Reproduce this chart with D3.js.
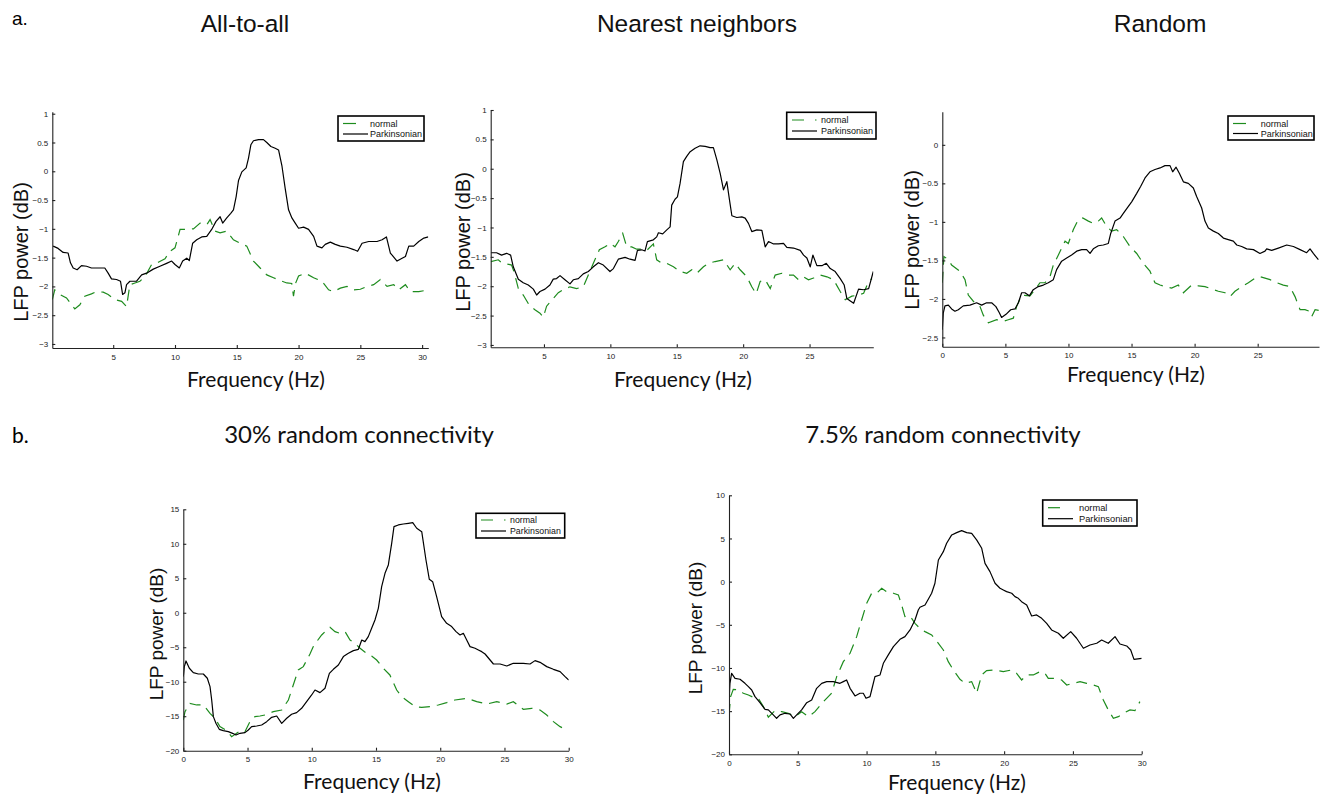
<!DOCTYPE html>
<html><head><meta charset="utf-8">
<script src="https://cdn.jsdelivr.net/npm/d3@7"></script>
<style>body{margin:0;background:#fff} svg{display:block}</style>
</head><body>
<svg id="chart" width="1328" height="796"></svg>
<script>
// ---------------- DATA ----------------
const panelTitles = ["All-to-all", "Nearest neighbors", "Random", "30% random connectivity", "7.5% random connectivity"];
const seriesNames = ["normal", "Parkinsonian"];

const allToAllNormal = [[0.07,-2.23],[0.27,-2.06],[0.68,-2.14],[1.22,-2.20],[1.89,-2.39],[2.30,-2.32],[2.70,-2.17],[3.24,-2.13],[3.65,-2.09],[4.19,-2.10],[4.59,-2.14],[5.14,-2.23],[5.68,-2.26],[6.08,-2.35],[6.35,-1.97],[6.76,-1.94],[7.16,-1.91],[7.57,-1.83],[8.11,-1.62],[8.65,-1.58],[9.19,-1.52],[9.59,-1.39],[10.0,-1.33],[10.41,-1.01],[10.95,-1.01],[11.49,-1.00],[12.03,-0.90],[12.57,-0.93],[12.84,-0.84],[13.24,-1.04],[13.65,-1.07],[14.19,-1.04],[14.73,-1.19],[15.27,-1.25],[15.81,-1.30],[16.35,-1.56],[16.89,-1.68],[17.43,-1.80],[17.97,-1.85],[18.65,-1.91],[19.05,-1.94],[19.45,-1.95],[19.59,-2.17],[19.75,-1.95],[20.0,-1.82],[20.54,-1.77],[21.22,-1.85],[21.89,-1.91],[22.43,-2.06],[22.84,-2.09],[23.38,-2.03],[23.92,-2.00],[24.46,-2.06],[25.0,-2.05],[25.54,-2.00],[26.08,-1.97],[26.62,-1.88],[27.16,-2.00],[27.70,-1.97],[28.11,-2.06],[28.65,-1.97],[29.05,-2.09],[29.73,-2.09],[30.27,-2.07]];
const allToAllParkinsonian = [[0.14,-1.30],[0.54,-1.34],[0.95,-1.41],[1.35,-1.42],[1.54,-1.59],[1.76,-1.68],[2.08,-1.71],[2.43,-1.64],[2.84,-1.65],[3.24,-1.68],[3.92,-1.68],[4.32,-1.68],[4.59,-1.77],[4.86,-1.87],[5.27,-1.88],[5.59,-1.91],[5.76,-2.14],[5.95,-2.11],[6.08,-1.97],[6.35,-1.91],[6.89,-1.91],[7.30,-1.80],[7.70,-1.77],[8.24,-1.70],[8.78,-1.65],[9.32,-1.60],[9.73,-1.56],[10.0,-1.62],[10.35,-1.68],[10.62,-1.56],[10.95,-1.51],[11.16,-1.55],[11.43,-1.25],[11.76,-1.19],[12.16,-1.14],[12.57,-1.13],[12.97,-1.01],[13.32,-0.87],[13.65,-0.79],[13.86,-0.90],[14.19,-0.81],[14.51,-0.73],[14.73,-0.67],[14.95,-0.44],[15.14,-0.16],[15.41,-0.01],[15.76,0.06],[15.95,0.23],[16.14,0.46],[16.35,0.53],[16.76,0.55],[17.16,0.55],[17.43,0.50],[17.76,0.43],[18.11,0.40],[18.38,0.37],[18.65,0.10],[18.92,-0.30],[19.19,-0.67],[19.46,-0.81],[19.73,-0.90],[20.0,-0.99],[20.41,-0.97],[20.81,-1.01],[21.22,-1.13],[21.49,-1.30],[21.89,-1.33],[22.16,-1.27],[22.57,-1.23],[22.97,-1.27],[23.38,-1.30],[23.92,-1.32],[24.46,-1.36],[24.78,-1.39],[25.14,-1.25],[25.68,-1.22],[26.35,-1.22],[26.76,-1.19],[27.11,-1.14],[27.43,-1.42],[27.97,-1.56],[28.38,-1.51],[28.65,-1.48],[28.92,-1.30],[29.32,-1.30],[29.73,-1.22],[30.14,-1.16],[30.5,-1.14]];

const nearestNormal = [[1.0,-1.58],[1.56,-1.55],[1.81,-1.60],[2.56,-1.64],[2.74,-1.75],[3.07,-2.04],[3.44,-2.15],[3.89,-2.32],[4.32,-2.40],[4.70,-2.46],[4.95,-2.53],[5.20,-2.34],[5.70,-2.21],[6.08,-2.11],[6.46,-2.06],[6.96,-2.01],[7.46,-2.04],[7.96,-2.01],[8.34,-1.81],[8.72,-1.61],[9.17,-1.38],[9.60,-1.33],[9.97,-1.27],[10.35,-1.33],[10.60,-1.24],[10.93,-1.10],[11.23,-1.33],[11.61,-1.33],[11.98,-1.37],[12.36,-1.37],[12.74,-1.39],[13.24,-1.28],[13.49,-1.55],[13.87,-1.61],[14.25,-1.61],[14.75,-1.67],[15.25,-1.75],[15.75,-1.78],[16.13,-1.72],[16.51,-1.78],[17.01,-1.67],[17.39,-1.61],[17.89,-1.58],[18.52,-1.55],[19.02,-1.72],[19.40,-1.61],[19.77,-1.72],[20.28,-1.84],[20.65,-2.01],[20.98,-2.13],[21.28,-1.92],[21.66,-1.89],[22.04,-2.04],[22.41,-1.81],[22.91,-1.78],[23.42,-1.81],[23.79,-1.81],[24.17,-1.89],[24.55,-1.84],[24.92,-1.89],[25.30,-1.86],[25.80,-1.81],[26.31,-1.84],[26.81,-1.89],[27.31,-2.09],[27.69,-2.23],[28.19,-2.17],[28.69,-2.15],[29.07,-2.12],[29.45,-1.92],[29.70,-1.87]];
const nearestParkinsonian = [[1.0,-1.43],[1.43,-1.43],[1.81,-1.47],[2.19,-1.44],[2.49,-1.47],[2.69,-1.67],[3.07,-1.88],[3.44,-1.94],[3.82,-1.98],[4.20,-2.05],[4.45,-2.15],[4.70,-2.09],[5.08,-2.05],[5.45,-1.98],[5.70,-1.88],[5.95,-1.87],[6.21,-1.82],[6.58,-1.89],[6.96,-1.96],[7.21,-1.89],[7.59,-1.87],[7.96,-1.79],[8.34,-1.75],[8.72,-1.67],[9.10,-1.60],[9.47,-1.64],[9.97,-1.75],[10.23,-1.70],[10.60,-1.54],[11.11,-1.51],[11.48,-1.54],[11.86,-1.56],[12.04,-1.39],[12.36,-1.38],[12.61,-1.40],[12.79,-1.24],[13.24,-1.21],[13.49,-1.16],[13.62,-1.09],[13.94,-1.11],[14.25,-1.04],[14.50,-0.99],[14.62,-0.62],[14.87,-0.52],[15.05,-0.48],[15.25,-0.25],[15.50,0.12],[15.75,0.21],[16.01,0.29],[16.38,0.35],[16.76,0.39],[17.14,0.38],[17.51,0.36],[17.76,0.36],[18.02,0.15],[18.27,-0.08],[18.52,-0.36],[18.77,-0.22],[18.97,-0.53],[19.15,-0.80],[19.52,-0.83],[19.90,-0.82],[20.15,-0.84],[20.40,-0.93],[20.65,-1.07],[21.03,-1.04],[21.41,-1.05],[21.66,-1.33],[21.91,-1.24],[22.29,-1.28],[22.66,-1.28],[23.04,-1.27],[23.29,-1.34],[23.79,-1.35],[24.30,-1.39],[24.55,-1.47],[24.80,-1.52],[25.05,-1.67],[25.25,-1.47],[25.55,-1.65],[25.93,-1.65],[26.26,-1.61],[26.56,-1.70],[26.93,-1.75],[27.31,-1.87],[27.61,-1.98],[27.81,-2.21],[28.07,-2.25],[28.32,-2.29],[28.69,-2.05],[29.07,-2.06],[29.45,-2.04],[29.80,-1.75]];

const randomNormal = [[0,-1.79],[0.13,-1.45],[0.48,-1.49],[0.74,-1.56],[1.40,-1.64],[1.80,-1.75],[2.06,-1.95],[2.46,-2.03],[2.99,-2.10],[3.25,-2.21],[3.65,-2.31],[4.31,-2.27],[4.84,-2.29],[5.23,-2.27],[5.63,-2.25],[5.89,-2.10],[6.29,-1.95],[6.95,-1.96],[7.35,-1.88],[7.74,-1.79],[8.14,-1.79],[8.54,-1.71],[8.80,-1.56],[9.20,-1.43],[9.73,-1.25],[9.99,-1.28],[10.39,-1.10],[10.78,-0.97],[11.13,-0.95],[11.58,-0.99],[11.97,-1.02],[12.37,-0.99],[12.63,-0.95],[13.03,-1.06],[13.42,-1.12],[13.82,-1.10],[14.35,-1.19],[14.88,-1.32],[15.41,-1.41],[15.94,-1.54],[16.46,-1.64],[16.86,-1.79],[17.26,-1.82],[17.65,-1.84],[18.18,-1.86],[18.71,-1.82],[19.11,-1.92],[19.77,-1.82],[20.30,-1.83],[20.82,-1.84],[21.35,-1.87],[21.88,-1.90],[22.41,-1.92],[22.81,-1.97],[23.20,-1.90],[23.73,-1.84],[24.26,-1.79],[24.79,-1.73],[25.18,-1.71],[25.58,-1.73],[25.98,-1.75],[26.51,-1.79],[27.03,-1.82],[27.56,-1.84],[27.96,-1.97],[28.36,-2.14],[28.75,-2.14],[29.10,-2.16],[29.28,-2.23],[29.55,-2.14],[29.86,-2.15]];
const randomParkinsonian = [[0,-2.40],[0.08,-2.18],[0.21,-2.09],[0.48,-2.08],[0.74,-2.13],[1.00,-2.16],[1.27,-2.14],[1.66,-2.09],[2.19,-2.08],[2.72,-2.05],[3.12,-2.08],[3.51,-2.05],[3.91,-2.05],[4.25,-2.10],[4.52,-2.18],[4.70,-2.24],[5.05,-2.20],[5.42,-2.14],[5.76,-2.13],[6.03,-2.05],[6.29,-1.92],[6.55,-1.92],[6.90,-1.96],[7.21,-1.88],[7.61,-1.84],[8.01,-1.82],[8.40,-1.79],[8.80,-1.75],[9.06,-1.62],[9.46,-1.51],[9.86,-1.47],[10.25,-1.43],[10.65,-1.38],[11.05,-1.36],[11.44,-1.36],[11.71,-1.41],[11.97,-1.35],[12.37,-1.31],[12.76,-1.30],[13.16,-1.28],[13.35,-1.15],[13.69,-0.99],[14.09,-0.95],[14.35,-0.89],[14.75,-0.80],[15.01,-0.74],[15.41,-0.63],[15.72,-0.54],[16.07,-0.43],[16.46,-0.35],[16.86,-0.32],[17.26,-0.30],[17.65,-0.27],[18.05,-0.27],[18.26,-0.35],[18.53,-0.29],[18.79,-0.37],[19.11,-0.48],[19.50,-0.50],[19.90,-0.56],[20.16,-0.67],[20.56,-0.82],[20.82,-0.99],[21.09,-1.08],[21.49,-1.12],[21.88,-1.15],[22.28,-1.21],[22.67,-1.23],[23.07,-1.25],[23.34,-1.30],[23.73,-1.32],[24.13,-1.35],[24.66,-1.36],[25.18,-1.41],[25.58,-1.38],[25.71,-1.35],[26.11,-1.37],[26.64,-1.34],[27.30,-1.30],[27.83,-1.32],[28.36,-1.36],[28.88,-1.40],[29.15,-1.35],[29.41,-1.41],[29.81,-1.49]];

const conn30Normal = [[0,-15.55],[0.13,-14.34],[0.52,-13.13],[1.04,-13.37],[1.56,-13.37],[2.08,-14.58],[2.47,-15.30],[2.85,-16.51],[3.37,-17.09],[3.76,-17.96],[4.15,-17.48],[4.54,-17.00],[4.80,-17.24],[5.19,-15.79],[5.58,-15.06],[5.97,-14.97],[6.36,-14.82],[7.01,-14.34],[7.66,-14.10],[8.18,-12.65],[8.56,-10.47],[8.95,-8.30],[9.34,-7.81],[9.86,-5.98],[10.12,-4.91],[10.38,-4.19],[10.77,-3.22],[11.16,-2.50],[11.42,-2.11],[11.81,-2.74],[12.20,-2.98],[12.59,-2.74],[12.98,-3.95],[13.37,-4.43],[13.76,-5.15],[14.27,-5.88],[14.66,-6.27],[15.05,-6.85],[15.57,-8.05],[16.08,-9.02],[16.61,-11.20],[17.00,-12.16],[17.52,-12.89],[18.04,-13.61],[18.56,-13.71],[19.21,-13.61],[19.85,-13.37],[20.50,-13.03],[21.15,-12.65],[22.06,-12.40],[22.84,-12.89],[23.62,-13.23],[24.40,-12.89],[25.18,-13.23],[25.69,-12.89],[26.47,-14.00],[27.12,-13.85],[27.77,-14.10],[28.29,-14.82],[28.81,-15.79],[29.33,-16.51],[29.85,-17.00]];
const conn30Parkinsonian = [[0,-9.26],[0.08,-7.81],[0.21,-6.99],[0.47,-8.05],[0.78,-8.68],[1.17,-8.88],[1.56,-8.88],[1.87,-9.50],[2.08,-10.71],[2.21,-12.65],[2.34,-15.06],[2.54,-16.03],[2.80,-16.90],[3.11,-17.09],[3.50,-17.24],[3.84,-17.48],[4.10,-17.72],[4.41,-17.48],[4.80,-17.38],[5.06,-17.00],[5.32,-16.51],[5.71,-16.42],[6.10,-16.27],[6.49,-15.79],[6.88,-15.16],[7.27,-14.97],[7.66,-16.03],[8.05,-15.30],[8.43,-14.72],[8.82,-14.48],[9.21,-13.85],[9.60,-12.89],[9.99,-11.92],[10.25,-11.20],[10.64,-11.58],[11.03,-10.95],[11.37,-8.78],[11.68,-8.20],[12.07,-7.57],[12.46,-6.36],[12.85,-5.88],[13.24,-5.49],[13.63,-5.30],[13.89,-3.95],[14.14,-4.19],[14.40,-3.46],[14.66,-2.26],[14.92,-1.05],[15.18,0.64],[15.44,3.79],[15.70,5.72],[15.96,6.93],[16.22,10.07],[16.40,12.49],[16.74,12.73],[17.13,12.87],[17.52,12.97],[17.86,13.07],[18.17,12.25],[18.56,11.76],[18.89,7.65],[19.15,4.85],[19.41,4.51],[19.72,2.34],[20.11,-0.57],[20.50,-1.53],[20.89,-2.01],[21.23,-2.74],[21.54,-3.22],[21.80,-2.98],[22.06,-3.95],[22.32,-4.91],[22.71,-5.15],[22.97,-5.40],[23.23,-5.64],[23.49,-5.98],[23.88,-6.85],[24.14,-7.43],[24.66,-7.43],[25.18,-7.72],[25.69,-7.33],[26.47,-7.33],[26.99,-7.43],[27.38,-6.94],[27.77,-7.19],[28.29,-7.81],[28.81,-8.20],[29.33,-8.54],[29.72,-9.26],[30.0,-9.75]];

const conn75Normal = [[0,-15.44],[0.12,-13.32],[0.31,-12.47],[0.68,-12.55],[1.04,-12.93],[1.41,-13.13],[1.77,-13.40],[2.13,-13.51],[2.50,-14.48],[2.86,-15.71],[3.34,-14.94],[3.83,-15.06],[4.31,-15.25],[4.80,-15.64],[5.28,-15.06],[5.77,-15.64],[6.25,-15.06],[6.86,-13.90],[7.46,-12.93],[7.83,-11.00],[8.31,-9.27],[8.80,-8.30],[9.28,-6.37],[9.64,-4.44],[10.01,-2.51],[10.37,-1.35],[10.73,-1.35],[11.10,-0.77],[11.46,-1.16],[11.95,-1.35],[12.31,-1.54],[12.55,-2.70],[12.79,-4.05],[13.16,-3.98],[13.52,-4.83],[13.88,-5.41],[14.25,-5.79],[14.73,-6.18],[15.22,-7.14],[15.58,-7.92],[15.94,-9.27],[16.31,-10.23],[16.79,-11.31],[17.16,-11.78],[17.64,-11.58],[18.00,-12.93],[18.37,-10.81],[18.73,-10.31],[19.34,-10.23],[19.94,-10.42],[20.55,-10.23],[20.91,-10.62],[21.27,-11.39],[21.64,-10.81],[22.12,-10.81],[22.61,-10.42],[22.97,-10.62],[23.21,-11.20],[23.70,-11.20],[24.18,-11.39],[24.55,-11.97],[25.03,-11.78],[25.52,-11.58],[26.00,-11.78],[26.48,-11.97],[26.85,-12.16],[27.21,-13.71],[27.57,-14.86],[27.94,-15.83],[28.30,-15.64],[28.66,-15.25],[29.15,-14.86],[29.51,-14.94],[29.87,-13.90]];
const conn75Parkinsonian = [[0,-13.90],[0.07,-11.78],[0.19,-10.62],[0.44,-11.20],[0.80,-11.31],[1.16,-11.78],[1.41,-12.16],[1.65,-12.55],[1.89,-13.32],[2.25,-14.02],[2.62,-14.79],[2.86,-14.86],[3.22,-15.44],[3.46,-15.83],[3.71,-15.44],[4.07,-15.25],[4.43,-15.33],[4.68,-15.83],[4.92,-15.44],[5.28,-14.86],[5.65,-14.02],[6.01,-13.71],[6.37,-12.36],[6.74,-11.78],[7.10,-11.58],[7.58,-11.58],[8.07,-11.78],[8.31,-11.58],[8.55,-11.39],[8.80,-12.36],[9.16,-13.24],[9.52,-12.93],[9.76,-12.93],[9.96,-13.51],[10.25,-13.32],[10.37,-12.55],[10.61,-11.00],[10.98,-10.81],[11.22,-9.46],[11.58,-8.49],[11.95,-7.53],[12.43,-6.68],[12.79,-6.37],[13.16,-5.60],[13.52,-4.44],[13.76,-3.28],[13.88,-2.97],[14.25,-2.70],[14.73,-1.35],[14.97,-0.19],[15.22,2.51],[15.58,3.47],[15.82,4.44],[16.19,5.41],[16.55,5.68],[16.91,5.91],[17.28,5.68],[17.64,5.60],[18.00,4.83],[18.37,3.86],[18.61,2.12],[18.97,1.16],[19.34,-0.19],[19.70,-0.77],[19.94,-0.97],[20.18,-1.16],[20.55,-1.35],[20.79,-1.74],[21.03,-1.93],[21.27,-2.32],[21.64,-2.70],[22.00,-3.98],[22.36,-3.86],[22.73,-4.25],[23.09,-4.83],[23.45,-5.60],[23.94,-5.98],[24.30,-6.56],[24.84,-5.79],[25.27,-6.56],[25.76,-7.72],[26.24,-7.34],[26.73,-7.14],[27.09,-6.76],[27.57,-7.14],[28.06,-6.37],[28.42,-7.22],[28.91,-7.45],[29.20,-7.92],[29.44,-9.00],[30.0,-8.88]];

const xTicksAllToAll = [5, 10, 15, 20, 25, 30];
const yTicksAllToAll = [1, 0.5, 0, -0.5, -1, -1.5, -2, -2.5, -3];
const xTicksNearest = [5, 10, 15, 20, 25];
const yTicksNearest = [1, 0.5, 0, -0.5, -1, -1.5, -2, -2.5, -3];
const xTicksRandom = [0, 5, 10, 15, 20, 25];
const yTicksRandom = [0, -0.5, -1, -1.5, -2, -2.5];
const xTicksConn = [0, 5, 10, 15, 20, 25, 30];
const yTicks30 = [15, 10, 5, 0, -5, -10, -15, -20];
const yTicks75 = [10, 5, 0, -5, -10, -15, -20];

// ---------------- LAYOUT ----------------
const panels = [
  { title: panelTitles[0], normal: allToAllNormal, park: allToAllParkinsonian, xTicks: xTicksAllToAll, yTicks: yTicksAllToAll,
    xDom: [0.07, 30.5], xR: [52.3, 428.3], yDom: [-3.07, 1.035], yR: [348, 111.7],
    ylab: [20.5, 252, 20], xlab: [256, 387],
    leg: { box: [338, 116, 86, 25], sx: 343, tx: 370, y1: 123.5, y2: 134, fs: 9, dash: "13,40" } },
  { title: panelTitles[1], normal: nearestNormal, park: nearestParkinsonian, xTicks: xTicksNearest, yTicks: yTicksNearest,
    xDom: [0.99, 29.8], xR: [490.7, 873.3], yDom: [-3.04, 1.0], yR: [347.3, 110],
    ylab: [462.5, 242, 20], xlab: [683, 387],
    leg: { box: [786.7, 112.3, 89.3, 26.7], sx: 792, tx: 821, y1: 120, y2: 131, fs: 9, dash: "12,11,1.5,30" } },
  { title: panelTitles[2], normal: randomNormal, park: randomParkinsonian, xTicks: xTicksRandom, yTicks: yTicksRandom,
    xDom: [0, 29.86], xR: [942.3, 1319], yDom: [-2.62, 0.43], yR: [346.7, 111.7],
    ylab: [912, 240, 20], xlab: [1136, 382],
    leg: { box: [1228, 116, 86, 24], sx: 1233, tx: 1260.7, y1: 123.5, y2: 133.5, fs: 9, dash: "13,40" } },
  { title: panelTitles[3], normal: conn30Normal, park: conn30Parkinsonian, xTicks: xTicksConn, yTicks: yTicks30,
    xDom: [0, 30], xR: [183.3, 568.7], yDom: [-20, 15], yR: [750.7, 509.3],
    ylab: [156, 634, 19], xlab: [372, 789],
    leg: { box: [476, 513.3, 88.7, 24.7], sx: 481, tx: 510, y1: 520, y2: 531, fs: 8.8, dash: "12,11,1.5,30" } },
  { title: panelTitles[4], normal: conn75Normal, park: conn75Parkinsonian, xTicks: xTicksConn, yTicks: yTicks75,
    xDom: [0, 30], xR: [729, 1141.7], yDom: [-20, 10], yR: [754.3, 495.3],
    ylab: [695, 628, 19], xlab: [957, 790],
    leg: { box: [1042.7, 500, 94.3, 26], sx: 1048, tx: 1079, y1: 507.7, y2: 518.7, fs: 9.3, dash: "12,13,2,30" } }
];

const GREEN = "#1e8c1e";
const helv = "Arial, 'Liberation Sans', Helvetica, sans-serif";
const myriad = "Lato, 'Open Sans', sans-serif";

const svg = d3.select("#chart");
svg.append("rect").attr("width", 1328).attr("height", 796).attr("fill", "#fff");

// Panel letters and titles
svg.append("text").attr("x", 12).attr("y", 25).attr("font-family", helv).attr("font-size", 19).text("a.");
svg.append("text").attr("x", 12).attr("y", 443).attr("font-family", myriad).attr("font-size", 21).text("b.");
const titlePos = [[245, 32, helv, 24.5], [697, 32, helv, 24.5], [1160, 32, helv, 24.5], [359, 443, myriad, 24], [943, 443, myriad, 24]];
titlePos.forEach((p, i) => {
  svg.append("text").attr("x", p[0]).attr("y", p[1]).attr("text-anchor", "middle")
    .attr("font-family", p[2]).attr("font-size", p[3]).attr("fill", "#111").text(panelTitles[i]);
});

const fmt = d => String(d).replace("-", "\u2212");

panels.forEach((p, i) => {
  const x = d3.scaleLinear().domain(p.xDom).range(p.xR);
  const y = d3.scaleLinear().domain(p.yDom).range(p.yR);
  const g = svg.append("g");

  const clipId = "clip" + i;
  svg.append("clipPath").attr("id", clipId).append("rect")
    .attr("x", p.xR[0]).attr("y", p.yR[1]).attr("width", p.xR[1] - p.xR[0]).attr("height", p.yR[0] - p.yR[1]);

  const line = d3.line().x(d => x(d[0])).y(d => y(d[1]));
  g.append("path").datum(p.normal).attr("d", line).attr("clip-path", `url(#${clipId})`)
    .attr("fill", "none").attr("stroke", GREEN).attr("stroke-width", 1.2).attr("stroke-dasharray", "11,7");
  g.append("path").datum(p.park).attr("d", line).attr("clip-path", `url(#${clipId})`)
    .attr("fill", "none").attr("stroke", "#000").attr("stroke-width", 1.2).attr("stroke-linejoin", "round");

  const xa = g.append("g").attr("transform", `translate(0,${p.yR[0]})`)
    .call(d3.axisBottom(x).tickValues(p.xTicks).tickFormat(fmt).tickSize(-3).tickSizeOuter(0).tickPadding(6));
  const ya = g.append("g").attr("transform", `translate(${p.xR[0]},0)`)
    .call(d3.axisLeft(y).tickValues(p.yTicks).tickFormat(fmt).tickSize(-3).tickSizeOuter(0).tickPadding(4));
  [xa, ya].forEach(a => {
    a.selectAll("path,line").attr("stroke", "#222").attr("stroke-width", 1.1);
    a.selectAll("text").attr("font-family", helv).attr("font-size", 8).attr("fill", "#222");
  });

  // axis labels
  g.append("text").attr("transform", `translate(${p.ylab[0]},${p.ylab[1]}) rotate(-90)`)
    .attr("text-anchor", "middle").attr("dominant-baseline", "central")
    .attr("font-family", helv).attr("font-size", p.ylab[2]).attr("fill", "#111").text("LFP power (dB)");
  g.append("text").attr("x", p.xlab[0]).attr("y", p.xlab[1]).attr("text-anchor", "middle")
    .attr("font-family", myriad).attr("font-size", 21).attr("fill", "#111").text("Frequency (Hz)");

  // legend
  const L = p.leg;
  const lg = g.append("g");
  lg.append("rect").attr("x", L.box[0]).attr("y", L.box[1]).attr("width", L.box[2]).attr("height", L.box[3])
    .attr("fill", "#fff").attr("stroke", "#000").attr("stroke-width", 1.6);
  lg.append("line").attr("x1", L.sx).attr("x2", L.sx + 25).attr("y1", L.y1).attr("y2", L.y1)
    .attr("stroke", GREEN).attr("stroke-width", 1.2).attr("stroke-dasharray", L.dash);
  lg.append("line").attr("x1", L.sx).attr("x2", L.sx + 25).attr("y1", L.y2).attr("y2", L.y2)
    .attr("stroke", "#000").attr("stroke-width", 1.2);
  lg.append("text").attr("x", L.tx).attr("y", L.y1).attr("dominant-baseline", "central")
    .attr("font-family", helv).attr("font-size", L.fs).attr("fill", "#111").text(seriesNames[0]);
  lg.append("text").attr("x", L.tx).attr("y", L.y2).attr("dominant-baseline", "central")
    .attr("font-family", helv).attr("font-size", L.fs).attr("fill", "#111").text(seriesNames[1]);
});
</script>
</body></html>
